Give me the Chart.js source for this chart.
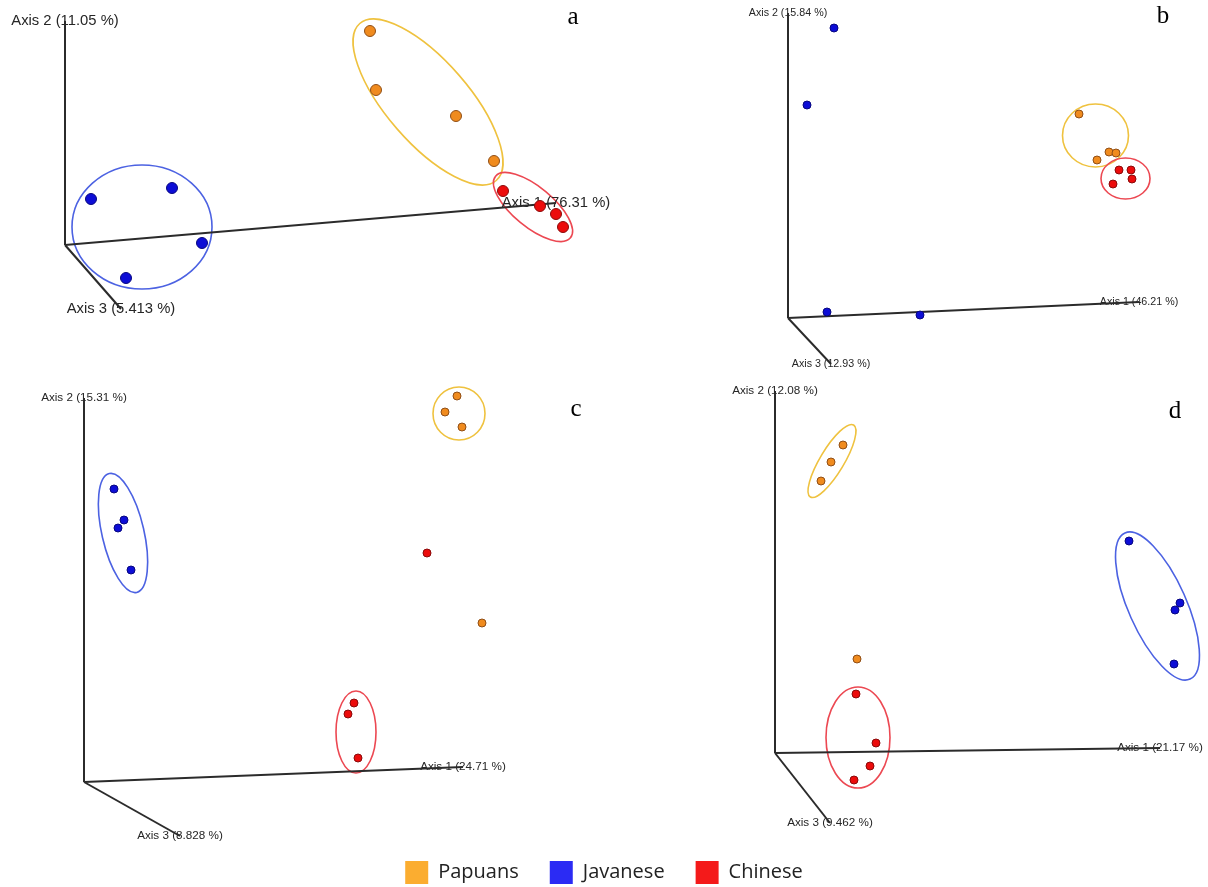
<!DOCTYPE html>
<html>
<head>
<meta charset="utf-8">
<title>PCoA ordination by population</title>
<script src="https://cdn.jsdelivr.net/npm/chart.js@4.4.1/dist/chart.umd.min.js"></script>
<style>
  html, body { margin: 0; padding: 0; background: #ffffff; overflow: hidden; }
  #fig { position: relative; width: 1208px; height: 887px; overflow: hidden; background: #ffffff; }
  .panel { position: absolute; }
  .panel canvas { display: block; }
</style>
</head>
<body>
<div id="fig">
  <div class="panel" style="left:0px;top:0px;width:630px;height:340px"><canvas id="pa" width="630" height="340"></canvas></div>
  <div class="panel" style="left:604px;top:0px;width:604px;height:375px"><canvas id="pb" width="604" height="375"></canvas></div>
  <div class="panel" style="left:0px;top:380px;width:604px;height:465px"><canvas id="pc" width="604" height="465"></canvas></div>
  <div class="panel" style="left:604px;top:375px;width:604px;height:470px"><canvas id="pd" width="604" height="470"></canvas></div>
  <div class="panel" style="left:0px;top:830px;width:1208px;height:160px"><canvas id="leg" width="1208" height="160"></canvas></div>
</div>
<script>
// ---- populations -------------------------------------------------------
const groups = ['Papuans', 'Javanese', 'Chinese'];

// ---- panel a: projected PCoA coordinates (axis 1 right, axis 2 up) ------
const aAxisLabels = ['Axis 1 (76.31 %)', 'Axis 2 (11.05 %)', 'Axis 3 (5.413 %)'];
const aAxisEnds = [[4.91, 0.42], [0, 2.24], [0.56, -0.64]];
const aPapuans  = [[3.05, 2.14], [3.11, 1.55], [3.91, 1.29], [4.29, 0.84]];
const aJavanese = [[0.26, 0.46], [1.07, 0.57], [1.37, 0.02], [0.61, -0.33]];
const aChinese  = [[4.38, 0.54], [4.75, 0.39], [4.91, 0.31], [4.98, 0.18]];
// group ellipses: [group index, centre x, centre y, semi-axis a, semi-axis b, tilt deg]
const aEllipses = [[0, 3.63, 1.43, 1.04, 0.41, -49], [1, 0.77, 0.18, 0.70, 0.62, 0], [2, 4.68, 0.38, 0.485, 0.20, -39.5]];

// ---- panel b -----------------------------------------------------------
const bAxisLabels = ['Axis 1 (46.21 %)', 'Axis 2 (15.84 %)', 'Axis 3 (12.93 %)'];
const bAxisEnds = [[3.51, 0.16], [0, 3.05], [0.43, -0.46]];
const bPapuans  = [[2.91, 2.04], [3.21, 1.66], [3.28, 1.65], [3.09, 1.58]];
const bJavanese = [[0.46, 2.90], [0.19, 2.13], [0.39, 0.06], [1.32, 0.03]];
const bChinese  = [[3.31, 1.48], [3.43, 1.48], [3.44, 1.39], [3.25, 1.34]];
const bEllipses = [[0, 3.075, 1.825, 0.33, 0.315, 0], [2, 3.375, 1.395, 0.245, 0.205, 0]];

// ---- panel c -----------------------------------------------------------
const cAxisLabels = ['Axis 1 (24.71 %)', 'Axis 2 (15.31 %)', 'Axis 3 (8.828 %)'];
const cAxisEnds = [[3.79, 0.15], [0, 3.84], [0.96, -0.54]];
const cPapuans  = [[3.73, 3.86], [3.61, 3.70], [3.78, 3.55], [3.98, 1.59]];
const cJavanese = [[0.30, 2.93], [0.40, 2.62], [0.34, 2.54], [0.47, 2.12]];
const cChinese  = [[3.43, 2.29], [2.70, 0.79], [2.64, 0.68], [2.74, 0.24]];
const cEllipses = [[0, 3.75, 3.685, 0.26, 0.265, 0], [1, 0.39, 2.49, 0.61, 0.21, -77], [2, 2.72, 0.50, 0.20, 0.41, 0]];

// ---- panel d -----------------------------------------------------------
const dAxisLabels = ['Axis 1 (21.17 %)', 'Axis 2 (12.08 %)', 'Axis 3 (9.462 %)'];
const dAxisEnds = [[3.85, 0.05], [0, 3.62], [0.55, -0.70]];
const dPapuans  = [[0.68, 3.08], [0.56, 2.91], [0.46, 2.72], [0.82, 0.94]];
const dJavanese = [[3.54, 2.12], [4.05, 1.50], [4.00, 1.43], [3.99, 0.89]];
const dChinese  = [[0.81, 0.59], [1.01, 0.10], [0.95, -0.13], [0.79, -0.27]];
const dEllipses = [[0, 0.57, 2.92, 0.42, 0.12, 59], [1, 3.825, 1.47, 0.80, 0.29, -66], [2, 0.83, 0.155, 0.32, 0.505, 0]];

// ---- styling -----------------------------------------------------------
const legendColors = ['#FBAD30', '#2B2BF4', '#F41A1A'];
const pointFill    = ['#F08B1E', '#0D0DD6', '#EC0C0C'];
const pointEdge    = ['#8F4E16', '#070780', '#8A0A0A'];
const ringColors   = ['#EFC23F', '#4C62E2', '#EC4852'];
const PX_PER_UNIT = 100;

function toXY(list) { return list.map(p => ({ x: p[0], y: p[1] })); }

// draws group ellipses, axis captions and the panel letter
const ordinationDecor = {
  id: 'ordinationDecor',
  beforeDatasetsDraw(chart, args, opts) {
    const ctx = chart.ctx;
    const xs = chart.scales.x, ys = chart.scales.y;
    const kx = Math.abs(xs.getPixelForValue(1) - xs.getPixelForValue(0));
    const ky = Math.abs(ys.getPixelForValue(1) - ys.getPixelForValue(0));
    ctx.save();
    opts.ellipses.forEach(e => {
      const [g, cx, cy, a, b, ang] = e;
      ctx.beginPath();
      ctx.ellipse(xs.getPixelForValue(cx), ys.getPixelForValue(cy), a * kx, b * ky, -ang * Math.PI / 180, 0, Math.PI * 2);
      ctx.strokeStyle = ringColors[g];
      ctx.lineWidth = 1.6;
      ctx.stroke();
    });
    ctx.fillStyle = '#262626';
    ctx.font = opts.labelSize + 'px "Liberation Sans", Arial, sans-serif';
    ctx.textAlign = 'center';
    ctx.textBaseline = 'middle';
    opts.axisLabels.forEach((t, i) => {
      const end = opts.axisEnds[i];
      ctx.fillText(t, xs.getPixelForValue(end[0]), ys.getPixelForValue(end[1]));
    });
    ctx.restore();
  },
  afterDraw(chart, args, opts) {
    const ctx = chart.ctx;
    ctx.save();
    ctx.fillStyle = '#000000';
    ctx.font = '25px "Liberation Serif", "DejaVu Serif", serif';
    ctx.textAlign = 'center';
    ctx.textBaseline = 'middle';
    ctx.fillText(opts.letter, opts.letterPos[0], opts.letterPos[1]);
    ctx.restore();
  }
};

function makePanel(id, cfg) {
  const canvas = document.getElementById(id);
  const w = canvas.width, h = canvas.height;
  const datasets = [];
  cfg.axisEnds.forEach(end => {
    datasets.push({
      data: [{ x: 0, y: 0 }, { x: end[0], y: end[1] }],
      showLine: true, borderColor: '#2b2b2b', borderWidth: cfg.axisWidth,
      pointRadius: 0, fill: false, order: 3
    });
  });
  cfg.series.forEach((s, g) => {
    datasets.push({
      label: groups[g], data: toXY(s),
      backgroundColor: pointFill[g], borderColor: pointEdge[g], borderWidth: 1,
      pointRadius: cfg.pointRadius, pointHoverRadius: cfg.pointRadius, order: 1
    });
  });
  return new Chart(canvas, {
    type: 'scatter',
    data: { datasets },
    options: {
      responsive: false, animation: false, events: [],
      layout: { padding: 0, autoPadding: false },
      scales: {
        x: { type: 'linear', display: false, min: -cfg.origin[0] / PX_PER_UNIT, max: (w - cfg.origin[0]) / PX_PER_UNIT },
        y: { type: 'linear', display: false, min: -(h - cfg.origin[1]) / PX_PER_UNIT, max: cfg.origin[1] / PX_PER_UNIT }
      },
      plugins: {
        legend: { display: false }, tooltip: { enabled: false },
        ordinationDecor: {
          ellipses: cfg.ellipses, axisLabels: cfg.axisLabels, axisEnds: cfg.axisEnds,
          labelSize: cfg.labelSize, letter: cfg.letter, letterPos: cfg.letterPos
        }
      }
    },
    plugins: [ordinationDecor]
  });
}

makePanel('pa', { origin: [65, 245], series: [aPapuans, aJavanese, aChinese], ellipses: aEllipses,
  axisLabels: aAxisLabels, axisEnds: aAxisEnds, labelSize: 14.8, pointRadius: 5.5, axisWidth: 2,
  letter: 'a', letterPos: [573, 17] });
makePanel('pb', { origin: [184, 318], series: [bPapuans, bJavanese, bChinese], ellipses: bEllipses,
  axisLabels: bAxisLabels, axisEnds: bAxisEnds, labelSize: 10.7, pointRadius: 4, axisWidth: 2,
  letter: 'b', letterPos: [559, 16] });
makePanel('pc', { origin: [84, 402], series: [cPapuans, cJavanese, cChinese], ellipses: cEllipses,
  axisLabels: cAxisLabels, axisEnds: cAxisEnds, labelSize: 11.7, pointRadius: 4, axisWidth: 2,
  letter: 'c', letterPos: [576, 29] });
makePanel('pd', { origin: [171, 378], series: [dPapuans, dJavanese, dChinese], ellipses: dEllipses,
  axisLabels: dAxisLabels, axisEnds: dAxisEnds, labelSize: 11.7, pointRadius: 4, axisWidth: 2,
  letter: 'd', letterPos: [571, 36] });

// shared legend for the three populations
new Chart(document.getElementById('leg'), {
  type: 'scatter',
  data: {
    datasets: groups.map((g, i) => ({ label: g, data: [], backgroundColor: legendColors[i], borderColor: legendColors[i], borderWidth: 0 }))
  },
  options: {
    responsive: false, animation: false, events: [],
    layout: { autoPadding: false },
    scales: { x: { display: false }, y: { display: false } },
    plugins: {
      tooltip: { enabled: false },
      legend: {
        display: true, position: 'top', align: 'center', maxHeight: 200,
        labels: { boxWidth: 23, boxHeight: 23, padding: 31, color: '#222222',
          font: { family: '"Open Sans", sans-serif', size: 20 } }
      }
    }
  }
});
</script>
</body>
</html>
